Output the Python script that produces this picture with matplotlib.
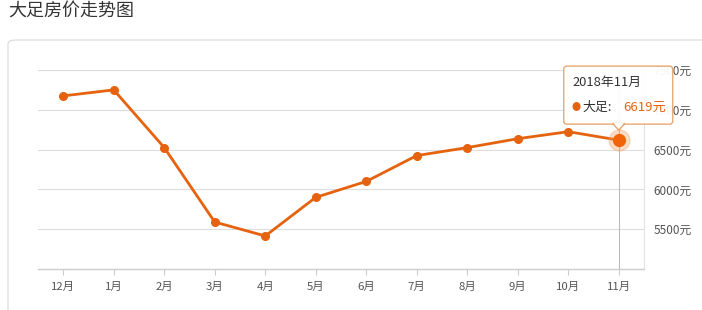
import matplotlib
matplotlib.use("Agg")
import matplotlib.pyplot as plt
from matplotlib.patches import FancyBboxPatch, Polygon
from matplotlib.transforms import Affine2D

plt.rcParams['font.family'] = ['Noto Sans CJK SC', 'DejaVu Sans']

title = "大足房价走势图"
months = ["12月", "1月", "2月", "3月", "4月", "5月", "6月", "7月", "8月", "9月", "10月", "11月"]
prices = [7175, 7250, 6525, 5590, 5415, 5900, 6100, 6425, 6525, 6637, 6725, 6619]
yticks = [5500, 6000, 6500, 7000, 7500]
tip_date = "2018年11月"
tip_name = "大足:"
series_color = "#E5630F"

W, H = 702, 310
fig = plt.figure(figsize=(W / 100, H / 100), dpi=100)
fig.patch.set_facecolor("white")

# card
card = FancyBboxPatch((8 / W, -20 / H), 720 / W, (310 - 40 + 20) / H,
                      boxstyle="round,pad=0,rounding_size=0.012",
                      transform=fig.transFigure, facecolor="white",
                      edgecolor="#dcdcdc", linewidth=0.9, zorder=-5)
fig.patches.append(card)

fig.text(8 / W, 1 - 12 / H, title, fontsize=13, color="#333333", va="center", ha="left")

ax = fig.add_axes([38 / W, 1 - 269 / H, (644 - 38) / W, (269 - 70) / H])
ax.set_facecolor("none")
x = list(range(len(months)))
ax.set_xlim(-0.5, len(months) - 0.5)
ax.set_ylim(5000, 7500)

for s in ["top", "left"]:
    ax.spines[s].set_visible(False)
ax.spines["bottom"].set_color("#cccccc")
ax.spines["bottom"].set_linewidth(1.0)
ax.spines["right"].set_color("#e3e3e3")
ax.spines["right"].set_linewidth(0.8)

ax.set_yticks(yticks)
ax.set_yticklabels([f"{v}元" for v in yticks])
ax.yaxis.tick_right()
ax.tick_params(axis="y", length=0, pad=7, labelsize=8.5, labelcolor="#555555")
ax.set_xticks(x)
ax.set_xticklabels(months)
ax.tick_params(axis="x", length=4, color="#cccccc", pad=5, labelsize=8.2, labelcolor="#555555")
ax.grid(axis="y", color="#dddddd", linewidth=0.8)
ax.set_axisbelow(True)

ax.plot(x, prices, color=series_color, linewidth=2.0, marker="o", markersize=5.5,
        markerfacecolor=series_color, markeredgecolor=series_color, zorder=3)

# highlighted point
hx, hy = x[-1], prices[-1]
ax.axvline(hx, color="#bbbbbb", linewidth=0.8, zorder=1)
ax.plot([hx], [hy], "o", markersize=15, color="#F5A060", alpha=0.35, zorder=4)
ax.plot([hx], [hy], "o", markersize=8.5, color="#F0640A", zorder=5)

# tooltip anchored to highlighted point (pixel offsets)
px, py = ax.transData.transform((hx, hy))
tr = Affine2D().translate(px, py)
box = FancyBboxPatch((-55, 16), 109, 58, boxstyle="round,pad=0,rounding_size=3",
                     transform=tr, facecolor="white", edgecolor="#E6A46A",
                     linewidth=1.0, alpha=0.95, zorder=10, clip_on=False)
fig.patches.append(box)
tri = Polygon([(-6, 16.6), (6, 16.6), (0, 10)], closed=True, transform=tr,
              facecolor="white", edgecolor="#E6A46A", linewidth=1.0, zorder=11)
fig.patches.append(tri)
fig.patches.append(Polygon([(-5.2, 17.2), (5.2, 17.2), (0, 11.6)], closed=True, transform=tr,
                           facecolor="white", edgecolor="none", zorder=12))

fig.text(-46, 58, tip_date, transform=tr, fontsize=9.3, color="#333333",
         va="center", ha="left", zorder=13)
fig.text(-47, 33, "●", transform=tr, fontsize=6.5, color=series_color,
         va="center", ha="left", zorder=13)
fig.text(-36, 33, tip_name, transform=tr, fontsize=9.3, color="#333333",
         va="center", ha="left", zorder=13)
fig.text(5, 33, f"{hy}元", transform=tr, fontsize=9.5, color=series_color,
         va="center", ha="left", zorder=13)

fig.savefig("out.png", dpi=100)
